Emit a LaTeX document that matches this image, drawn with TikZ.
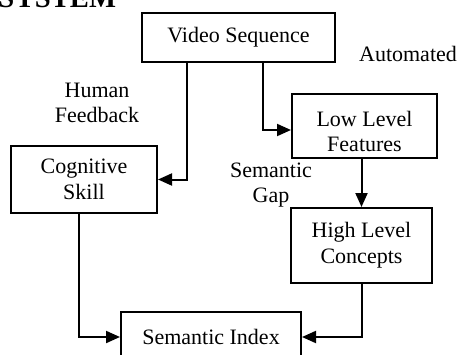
\documentclass[tikz,border=0pt]{standalone}
\usepackage{fontspec}
\setmainfont{Liberation Serif}
\usetikzlibrary{arrows.meta}
\begin{document}
\begin{tikzpicture}[x=0.5pt,y=-0.5pt,
  box/.style={draw,line width=1pt,align=center,inner sep=0pt,
    font=\fontsize{11}{13}\selectfont},
  lbl/.style={align=center,inner sep=0pt,font=\fontsize{11}{12.5}\selectfont},
  arr/.style={line width=1pt,-{Triangle[length=7pt,width=6pt]}}]
  \useasboundingbox (0,0) rectangle (460,354);
  \clip (0,0) rectangle (460,354);

  % heading, mostly above the top edge
  \node[anchor=base west,inner sep=0pt,font=\fontsize{14.3}{16}\selectfont\bfseries]
    (title) at (-2,7) {SYSTEM};

  % boxes
  \node[box,minimum width=96.5pt,minimum height=24.5pt] (vid) at (238.5,37.5) {Video Sequence};
  \node[box,minimum width=72.5pt,minimum height=32pt] (low) at (364.5,126) {};
  \begin{scope}
    \clip (292,94) rectangle (437,155);
    \node[lbl,font=\fontsize{11}{12.5}\selectfont] (lowtxt) at (364.5,131) {Low Level\\Features};
  \end{scope}
  \node[box,minimum width=73pt,minimum height=33.5pt] (cog) at (84,179.5) {Cognitive\\Skill};
  \node[box,minimum width=70.5pt,minimum height=37.5pt] (high) at (361.5,245.5) {High Level\\Concepts};
  \node[box,minimum width=90pt,minimum height=25pt] (idx) at (211,337) {Semantic Index};

  % free labels
  \node[lbl] (human) at (97,103) {Human\\Feedback};
  \node[lbl] (auto) at (408,54) {Automated};
  \node[lbl] (gap) at (271,185) {Semantic\\Gap};

  % bend points
  \coordinate (vl) at (187,0);
  \coordinate (vr) at (263,0);
  \coordinate (lowin) at (0,130);
  \coordinate (cl) at (79,0);

  % connectors
  \draw[arr] (vid.south -| vl) |- (cog.east);
  \draw[arr] (vid.south -| vr) |- (low.west |- lowin);
  \draw[arr] (low.south -| high.north) -- (high.north);
  \draw[arr] (cog.south -| cl) |- (idx.west);
  \draw[arr] (high.south) |- (idx.east);
\end{tikzpicture}
\end{document}
